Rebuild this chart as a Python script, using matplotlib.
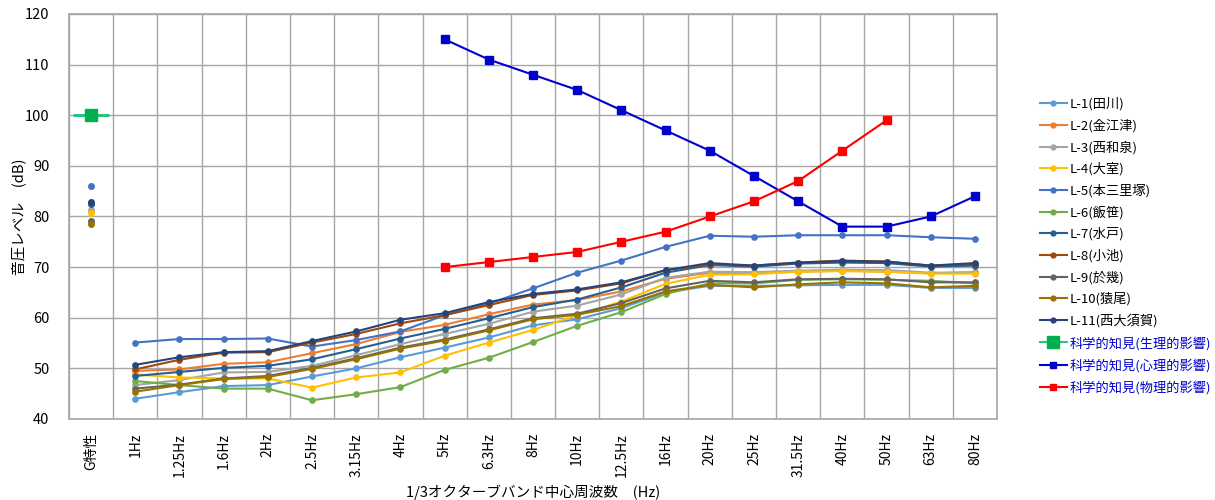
import numpy as np
import matplotlib
matplotlib.use("Agg")
import matplotlib.pyplot as plt

plt.rcParams['font.family'] = ['Noto Sans CJK JP', 'DejaVu Sans']

nan = np.nan
cats = ['G特性', '1Hz', '1.25Hz', '1.6Hz', '2Hz', '2.5Hz', '3.15Hz', '4Hz', '5Hz',
        '6.3Hz', '8Hz', '10Hz', '12.5Hz', '16Hz', '20Hz', '25Hz', '31.5Hz',
        '40Hz', '50Hz', '63Hz', '80Hz']

# band levels, 1Hz .. 80Hz
names = ['L-1(田川)', 'L-2(金江津)', 'L-3(西和泉)', 'L-4(大室)', 'L-5(本三里塚)', 'L-6(飯笹)',
         'L-7(水戸)', 'L-8(小池)', 'L-9(於幾)', 'L-10(猿尾)', 'L-11(西大須賀)']
colors = ['#5B9BD5', '#ED7D31', '#A5A5A5', '#FFC000', '#4472C4', '#70AD47',
          '#255E91', '#9E480E', '#636363', '#997300', '#264478']
L1 = [44.0, 45.3, 46.5, 46.7, 48.4, 50.0, 52.2, 54.1, 56.1, 58.5, 59.7, 61.9, 65.0, 66.3, 66.3, 66.4, 66.5, 66.5, 65.9, 65.9]
L2 = [49.5, 49.8, 50.9, 51.2, 53.0, 54.8, 57.2, 58.6, 60.7, 62.6, 63.5, 65.2, 67.7, 68.9, 68.8, 69.1, 69.3, 69.1, 68.8, 69.0]
L3 = [46.7, 47.7, 49.2, 49.3, 50.5, 52.6, 54.8, 56.8, 58.8, 61.2, 62.4, 64.6, 67.9, 69.1, 69.0, 69.3, 69.5, 69.4, 68.9, 68.9]
L4 = [48.8, 48.2, 48.0, 48.0, 46.2, 48.2, 49.2, 52.5, 55.1, 57.6, 60.5, 63.2, 66.7, 68.5, 68.6, 69.1, 69.2, 69.1, 68.7, 68.7]
L5 = [55.1, 55.8, 55.8, 55.9, 54.3, 55.6, 57.3, 60.5, 62.8, 65.8, 68.9, 71.3, 74.0, 76.2, 76.0, 76.3, 76.3, 76.3, 75.9, 75.6]
L6 = [47.5, 46.7, 46.0, 46.0, 43.7, 44.9, 46.3, 49.7, 52.1, 55.2, 58.4, 61.1, 64.7, 66.8, 66.8, 67.5, 67.6, 67.5, 67.3, 66.8]
L7 = [48.5, 49.3, 50.1, 50.5, 51.8, 53.8, 55.9, 57.8, 59.9, 62.1, 63.6, 66.0, 68.9, 70.4, 70.1, 70.7, 70.9, 70.8, 70.1, 70.3]
L8 = [49.8, 51.7, 53.1, 53.2, 55.1, 56.8, 58.9, 60.5, 62.5, 64.5, 65.4, 66.8, 69.4, 70.5, 70.3, 70.9, 71.3, 71.1, 70.3, 70.6]
L9 = [46.0, 46.8, 48.0, 48.5, 50.1, 52.0, 54.1, 55.7, 57.7, 59.9, 60.8, 62.9, 65.8, 67.3, 67.0, 67.6, 67.7, 67.6, 67.0, 67.0]
L10 = [45.4, 46.7, 47.9, 48.3, 49.9, 51.8, 53.9, 55.5, 57.5, 59.7, 60.6, 62.3, 65.2, 66.5, 66.0, 66.6, 67.0, 66.8, 66.0, 66.3]
L11 = [50.7, 52.2, 53.2, 53.4, 55.4, 57.3, 59.6, 60.9, 63.1, 64.7, 65.6, 67.0, 69.4, 70.8, 70.3, 70.9, 71.2, 71.1, 70.3, 70.8]
bands = [L1, L2, L3, L4, L5, L6, L7, L8, L9, L10, L11]
# G-weighted levels
g_level = [nan, nan, 81.2, 80.6, 86.0, nan, 82.4, nan, 79.2, 78.6, 82.8]

# scientific findings
seiri = [100]                      # G特性
shinri = [115, 111, 108, 105, 101, 97, 93, 88, 83, 78, 78, 80, 84]   # 5Hz..80Hz
butsuri = [70, 71, 72, 73, 75, 77, 80, 83, 87, 93, 99]               # 5Hz..50Hz

x = np.arange(len(cats))

fig = plt.figure(figsize=(12.15, 5), dpi=100)
ax = fig.add_axes([69 / 1215, 81 / 500, (997 - 69) / 1215, 405 / 500])

handles = []
for name, col, vals, g in zip(names, colors, bands, g_level):
    h, = ax.plot(x[1:], vals, color=col, lw=1.5, marker='o', ms=3.8, label=name, zorder=3)
    ax.plot([x[0]], [g], color=col, marker='o', ms=4, ls='none', zorder=3)
    handles.append(h)

ax.plot(x[:1], seiri, color='#2EC27E', marker='_', ms=26, mew=2.2, ls='none', zorder=4)
ax.plot(x[:1], seiri, color='#00B050', marker='s', ms=9, ls='none', zorder=5)
h_seiri, = ax.plot([], [], color='#2EC27E', lw=1.5, marker='s', ms=9,
                   mfc='#00B050', mec='#00B050', label='科学的知見(生理的影響)')
h_shinri, = ax.plot(x[8:8 + len(shinri)], shinri, color='#0000CC', lw=1.5, marker='s', ms=6,
                    label='科学的知見(心理的影響)', zorder=4)
h_butsuri, = ax.plot(x[8:8 + len(butsuri)], butsuri, color='#FF0000', lw=1.5, marker='s', ms=6,
                     label='科学的知見(物理的影響)', zorder=4)
handles += [h_seiri, h_shinri, h_butsuri]

ax.set_xlim(-0.5, len(cats) - 0.5)
ax.set_ylim(40, 120)
ax.set_yticks(range(40, 121, 10))
ax.set_xticks(x)
ax.set_xticklabels(cats, rotation=90, fontsize=10)
ax.set_xticks(np.arange(-0.5, len(cats), 1), minor=True)
ax.tick_params(axis='x', which='both', length=0, pad=10)
ax.tick_params(axis='y', length=0, labelsize=10.5, pad=14)
ax.grid(False, which='major', axis='x')
ax.grid(True, which='minor', axis='x', color='#A6A6A6', lw=1)
ax.grid(True, which='major', axis='y', color='#A6A6A6', lw=1)
for s in ax.spines.values():
    s.set_color('#A6A6A6')
    s.set_linewidth(1.2)

ax.set_ylabel('音圧レベル　(dB)', fontsize=10.5)
ax.yaxis.set_label_coords(-0.046, 0.5)
ax.set_xlabel('1/3オクターブバンド中心周波数　(Hz)', fontsize=10.5, labelpad=6)

leg = fig.legend(handles=handles, loc='upper left', bbox_to_anchor=(1035 / 1215, 1 - 92 / 500),
                 frameon=False, fontsize=9.5, labelspacing=0.62, handlelength=2.0,
                 handletextpad=0.2, borderaxespad=0)
for t in leg.get_texts()[-3:]:
    t.set_color('#0000CC')
for lh in leg.legend_handles[:11]:
    lh.set_markersize(3.5)
for lh in leg.legend_handles[12:]:
    lh.set_markersize(5)

fig.savefig('out.png', dpi=100)
